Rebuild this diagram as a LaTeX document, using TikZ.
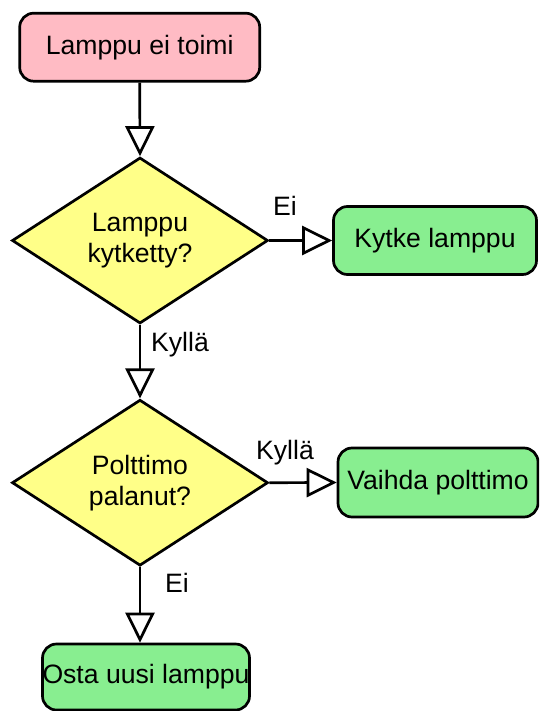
\documentclass[tikz,border=0pt]{standalone}
\usepackage{fontspec}
\setmainfont{Liberation Sans}
\usetikzlibrary{shapes.geometric,arrows.meta}

\definecolor{startpink}{RGB}{255,187,196}
\definecolor{askyellow}{RGB}{255,255,136}
\definecolor{actgreen}{RGB}{136,238,144}

\tikzset{
  every node/.style={font=\fontsize{26.6}{31}\selectfont},
  box/.style={draw, line width=2.7pt, rounded corners=14pt, inner sep=0pt, align=center},
  startbox/.style={box, fill=startpink},
  actbox/.style={box, fill=actgreen},
  ask/.style={draw, line width=2.7pt, diamond, fill=askyellow, inner sep=0pt, align=center},
  flow/.style={line width=2.7pt, -{Triangle[open, length=30pt, width=29pt]}},
  lbl/.style={inner sep=0pt, anchor=base},
}

\begin{document}
\begin{tikzpicture}[x=1pt, y=-1pt]
  \useasboundingbox (0,0) rectangle (539,711);
  \begin{scope}
    \clip (0,0) rectangle (539,711);

    % steps
    \node[startbox, minimum width=240pt, minimum height=68pt] (start) at (139.7,47.2) {Lamppu ei toimi};
    \node[ask, minimum width=256pt, minimum height=166pt] (plugged) at (140,240.5) {Lamppu\\kytketty?};
    \node[actbox, minimum width=203pt, minimum height=68pt] (plugin) at (435,240.5) {Kytke lamppu};
    \node[ask, minimum width=256pt, minimum height=166pt] (burned) at (140,482.7) {Polttimo\\palanut?};
    \node[actbox, minimum width=200pt, minimum height=69pt] (replace) at (438,482.5) {Vaihda polttimo};
    \node[actbox, minimum width=206pt, minimum height=66pt] (buy) at (146,677) {Osta uusi lamppu};

    % connectors
    \draw[flow] (start.south) -- (plugged.north);
    \draw[flow] (plugged.east) -- (plugin.west);
    \draw[flow] (plugged.south) -- (burned.north);
    \draw[flow] (burned.east) -- (replace.west);
    \draw[flow] (burned.south) -- (burned.south |- buy.north);

    % answers
    \node[lbl] (no1) at (285,215.7) {Ei};
    \node[lbl, anchor=base west] (yes1) at (151,351.7) {Kyllä};
    \node[lbl] (yes2) at (285,459) {Kyllä};
    \node[lbl] (no2) at (177,592) {Ei};
  \end{scope}
\end{tikzpicture}
\end{document}
